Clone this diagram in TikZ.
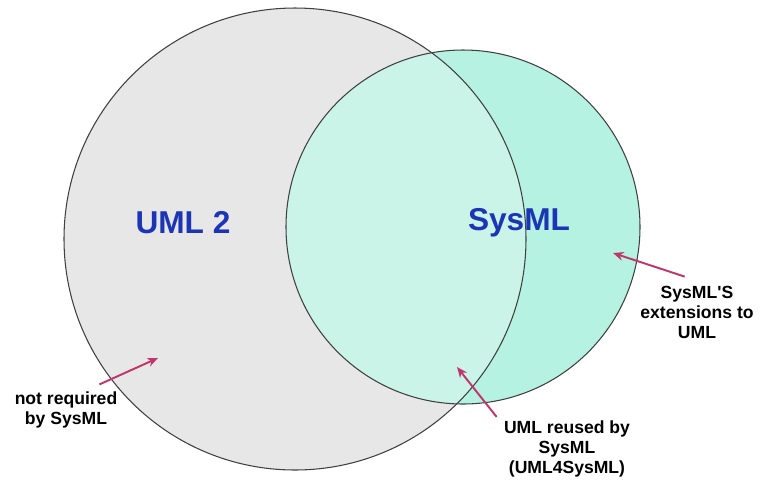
\documentclass[tikz,border=0pt]{standalone}
\usepackage{fontspec}
\setmainfont{Liberation Sans}
\usetikzlibrary{arrows.meta,positioning}
\definecolor{umlgray}{HTML}{E7E7E7}
\definecolor{sysmlgreen}{HTML}{B6F2E2}
\definecolor{reusegreen}{HTML}{CAF4E8}
\definecolor{setblue}{HTML}{1C35B5}
\definecolor{notepink}{HTML}{C2346C}

\begin{document}
\begin{tikzpicture}[x=0.02cm,y=-0.02cm]
    \tikzset{
        set circle/.style={draw=black!75, line width=0.6pt},
        set label/.style={font=\fontsize{18}{20}\selectfont\bfseries, text=setblue},
        note/.style={font=\fontsize{10}{11.4}\selectfont\bfseries, align=center, inner sep=1pt},
        note arrow/.style={-{Stealth[length=6pt,width=5pt]}, notepink, line width=1.1pt},
    }
    \useasboundingbox (0,0) rectangle (778,485);

    \coordinate (uml) at (295,239);
    \coordinate (sysml) at (463,227);

    % the two sets
    \fill[umlgray] (uml) circle (231);
    \fill[sysmlgreen] (sysml) circle (177);
    \begin{scope}
        \clip (uml) circle (231);
        \fill[reusegreen] (sysml) circle (177);
    \end{scope}
    \draw[set circle] (uml) circle (231);
    \draw[set circle] (sysml) circle (177);

    \node[set label] (uml-name) at (183,223) {UML 2};
    \node[set label] (sysml-name) at (519,223) {SysML};

    % notes
    \node[note] (not-req) at (66,410) {not required\\by SysML};
    \node[note] (reuse) at (567,449) {UML reused by\\SysML\\(UML4SysML)};
    \node[note] (ext) at (697,312) {SysML\textquotesingle S\\extensions to\\UML};

    \coordinate (not-req-tip) at (158,358);
    \coordinate (reuse-tip) at (457,367);
    \coordinate (ext-tip) at (613,253);

    \draw[note arrow] ([xshift=19pt,yshift=3pt]not-req.north) -- (not-req-tip);
    \draw[note arrow] ([xshift=-3pt,yshift=1pt]reuse.north west) -- (reuse-tip);
    \draw[note arrow] ([xshift=-7pt,yshift=4pt]ext.north) -- (ext-tip);

\end{tikzpicture}
\end{document}
